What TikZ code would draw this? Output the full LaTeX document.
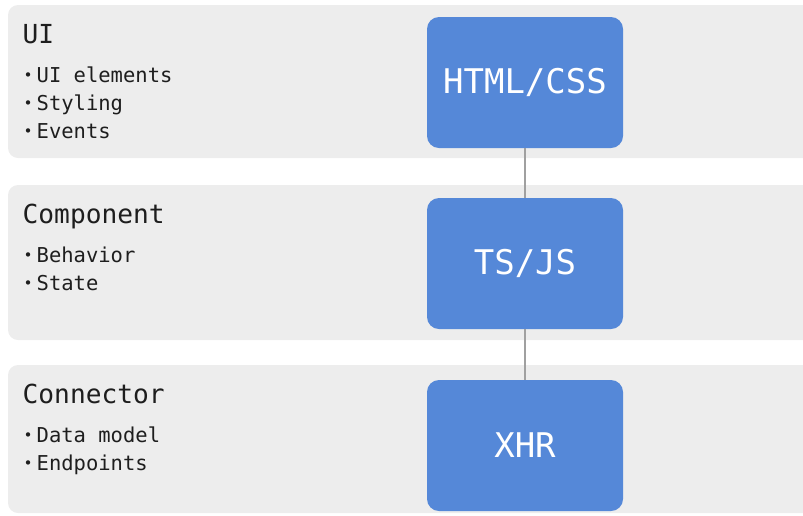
\documentclass[tikz,border=0pt]{standalone}
\usepackage{fontspec}
\setmonofont{DejaVu Sans Mono}
\definecolor{bandgray}{HTML}{EDEDED}
\definecolor{boxblue}{HTML}{5588D8}
\definecolor{linegray}{HTML}{A0A0A0}
\definecolor{txt}{HTML}{1E1E1E}
\newcommand\bul{\makebox[13.5pt][l]{\hspace{0.5pt}\raisebox{1.8pt}{\fontsize{15}{15}\selectfont •}}}
\tikzset{
  band/.style={fill=bandgray, rounded corners=10pt},
  layerbox/.style={fill=boxblue, rounded corners=12pt, minimum width=196pt, minimum height=131pt,
    inner sep=0pt, text=white, font=\ttfamily\fontsize{34}{34}\selectfont},
  conn/.style={draw=linegray, line width=1.4pt},
  head/.style={anchor=base west, inner sep=0pt, text=txt, font=\ttfamily\fontsize{26.2}{26.2}\selectfont},
  item/.style={anchor=base west, inner sep=0pt, text=txt, font=\ttfamily\fontsize{20.5}{20.5}\selectfont},
}
\begin{document}
\begin{tikzpicture}[x=1pt,y=-1pt]
\useasboundingbox (0,0) rectangle (803,515);
\clip (0,0) rectangle (803,515);
% bands
\fill[band] (8,5) rectangle (830,158);
\fill[band] (8,185) rectangle (830,340);
\fill[band] (8,365) rectangle (830,513);
% boxes
\node[layerbox] (html) at (525,82.5) {HTML/CSS};
\node[layerbox] (ts) at (525,263.5) {TS/JS};
\node[layerbox] (xhr) at (525,445.5) {XHR};
\draw[conn] (html.south) -- (ts.north);
\draw[conn] (ts.south) -- (xhr.north);
% labels
\node[head] (h1) at (22.5,43) {UI};
\node[item] (i11) at (23,82) {\bul UI elements};
\node[item] (i12) at (23,110) {\bul Styling};
\node[item] (i13) at (23,138) {\bul Events};
\node[head] (h2) at (22.5,223) {Component};
\node[item] (i21) at (23,262) {\bul Behavior};
\node[item] (i22) at (23,290) {\bul State};
\node[head] (h3) at (22.5,403) {Connector};
\node[item] (i31) at (23,442) {\bul Data model};
\node[item] (i32) at (23,470) {\bul Endpoints};
\end{tikzpicture}
\end{document}
